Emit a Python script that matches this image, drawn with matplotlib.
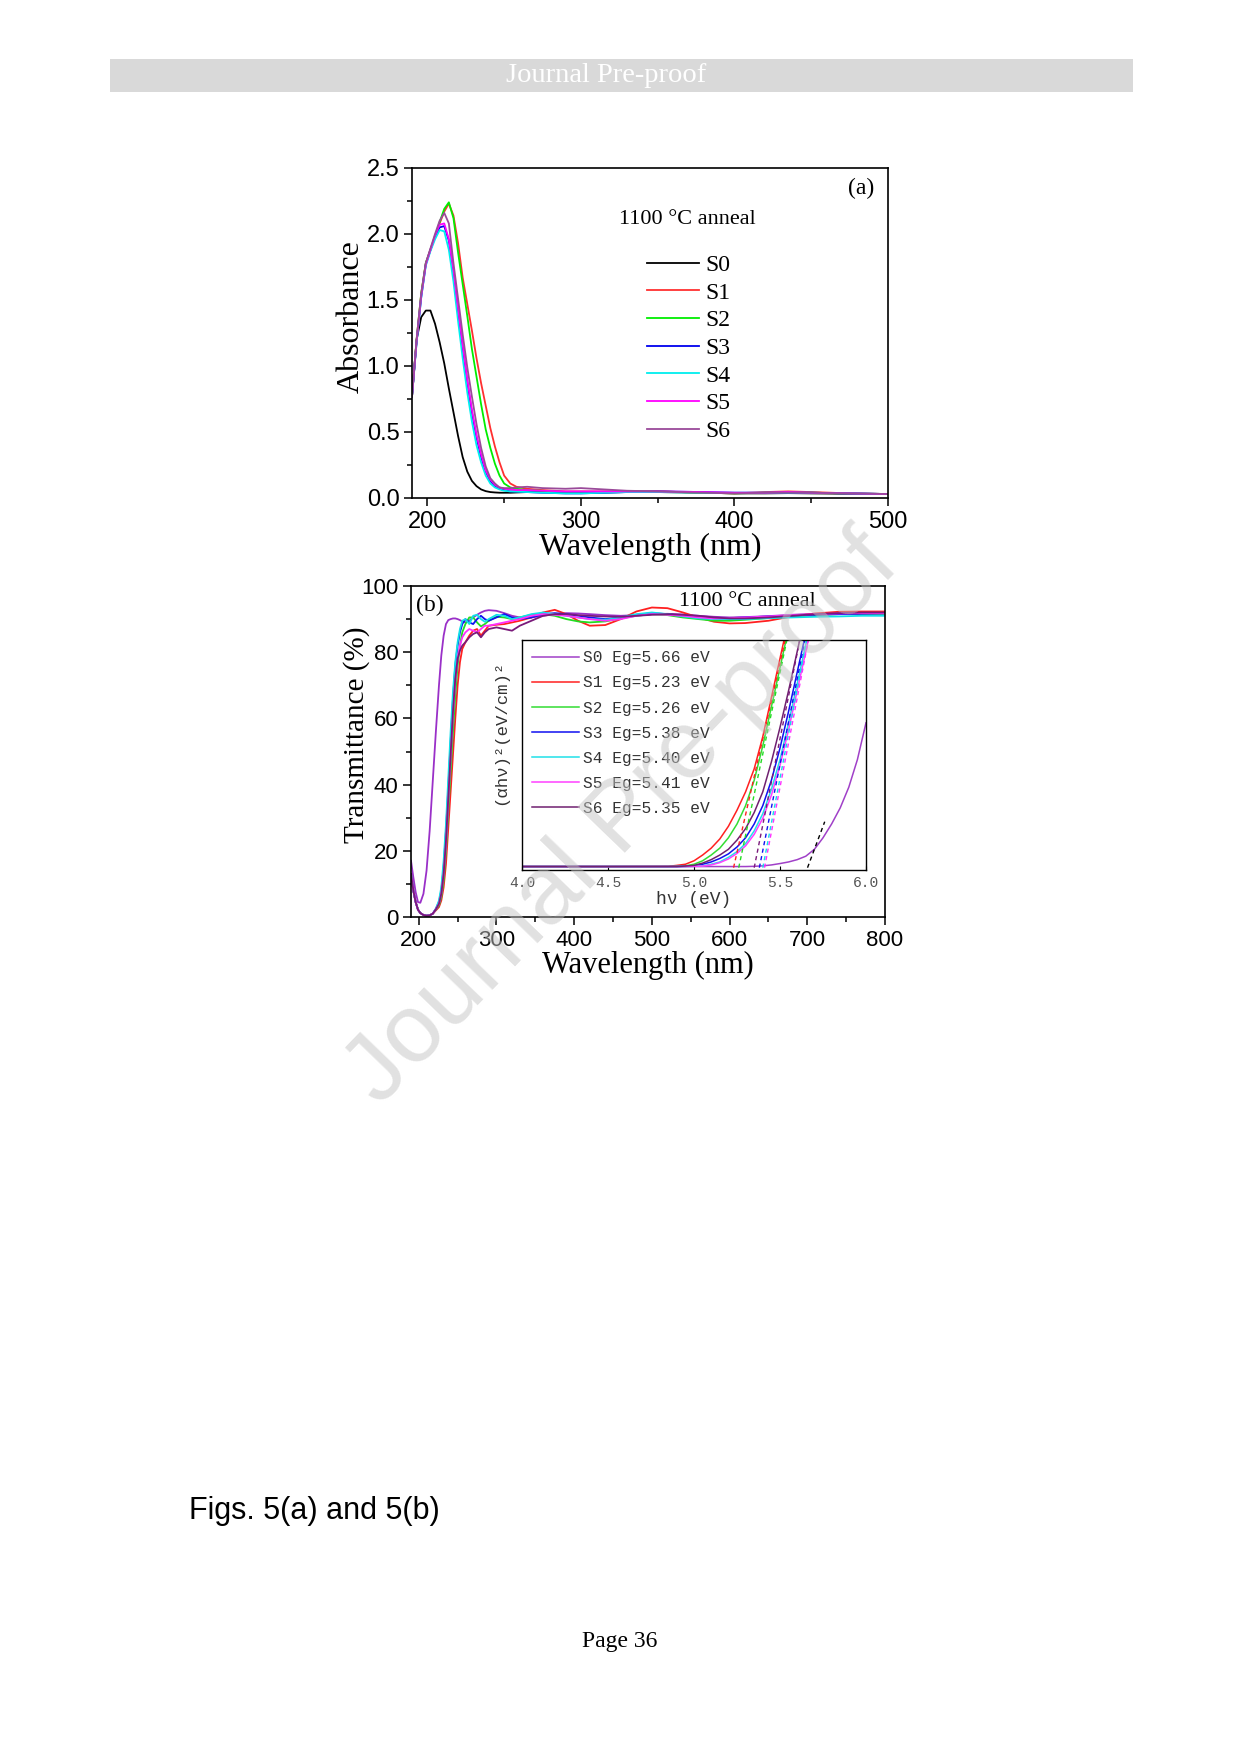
import matplotlib
matplotlib.use("Agg")
import matplotlib.pyplot as plt
from matplotlib.ticker import MultipleLocator, FormatStrFormatter
from matplotlib.patches import Rectangle

plt.rcParams['font.family'] = ['Liberation Sans', 'DejaVu Sans']

# ---------------- data: panel (a) absorbance ----------------
wl_a = [190, 193, 196, 199, 202, 205, 208, 211, 214, 217, 220, 223, 226, 229, 232,
        235, 238, 241, 244, 247, 250, 254, 258, 265, 275, 290, 300, 315, 330, 350,
        380, 400, 420, 435, 450, 475, 500]
abs_s0 = [0.77, 1.20, 1.37, 1.42, 1.42, 1.32, 1.18, 1.02, 0.83, 0.65, 0.47, 0.31, 0.20, 0.13, 0.09,
          0.065, 0.052, 0.045, 0.042, 0.040, 0.040, 0.040, 0.042, 0.045, 0.045, 0.042, 0.040, 0.042, 0.045, 0.045,
          0.040, 0.035, 0.035, 0.037, 0.035, 0.032, 0.030]
abs_s1 = [0.77, 1.20, 1.55, 1.78, 1.88, 1.98, 2.08, 2.17, 2.23, 2.14, 1.93, 1.67, 1.47, 1.27, 1.06,
          0.87, 0.70, 0.53, 0.39, 0.27, 0.17, 0.11, 0.085, 0.07, 0.06, 0.05, 0.05, 0.05, 0.05, 0.05,
          0.04, 0.035, 0.045, 0.05, 0.045, 0.035, 0.03]
abs_s2 = [0.77, 1.20, 1.55, 1.78, 1.88, 1.98, 2.09, 2.19, 2.24, 2.12, 1.86, 1.62, 1.38, 1.13, 0.92,
          0.71, 0.52, 0.38, 0.26, 0.17, 0.11, 0.08, 0.07, 0.06, 0.055, 0.045, 0.04, 0.045, 0.05, 0.05,
          0.04, 0.035, 0.04, 0.04, 0.04, 0.035, 0.03]
abs_s3 = [0.77, 1.18, 1.52, 1.77, 1.88, 1.98, 2.05, 2.06, 1.95, 1.72, 1.42, 1.14, 0.88, 0.65, 0.46,
          0.31, 0.20, 0.13, 0.09, 0.07, 0.06, 0.05, 0.05, 0.045, 0.04, 0.035, 0.035, 0.04, 0.045, 0.05,
          0.045, 0.04, 0.04, 0.04, 0.04, 0.035, 0.03]
abs_s4 = [0.77, 1.18, 1.52, 1.76, 1.87, 1.96, 2.03, 2.02, 1.88, 1.64, 1.34, 1.06, 0.80, 0.58, 0.40,
          0.27, 0.17, 0.11, 0.08, 0.065, 0.055, 0.05, 0.048, 0.045, 0.04, 0.035, 0.035, 0.04, 0.045, 0.045,
          0.04, 0.04, 0.04, 0.04, 0.04, 0.035, 0.03]
abs_s5 = [0.77, 1.19, 1.53, 1.77, 1.88, 1.99, 2.07, 2.08, 1.96, 1.73, 1.44, 1.16, 0.90, 0.67, 0.48,
          0.33, 0.21, 0.14, 0.10, 0.08, 0.07, 0.065, 0.06, 0.06, 0.055, 0.05, 0.05, 0.05, 0.05, 0.05,
          0.045, 0.04, 0.04, 0.045, 0.04, 0.035, 0.03]
abs_s6 = [0.77, 1.20, 1.54, 1.78, 1.89, 2.00, 2.10, 2.16, 2.08, 1.78, 1.51, 1.24, 0.99, 0.77, 0.56,
          0.38, 0.24, 0.15, 0.11, 0.08, 0.075, 0.075, 0.08, 0.085, 0.075, 0.07, 0.075, 0.065, 0.055, 0.05,
          0.04, 0.035, 0.04, 0.04, 0.04, 0.035, 0.03]

labels = ['S0', 'S1', 'S2', 'S3', 'S4', 'S5', 'S6']
colors_a = ['#000000', '#FF3030', '#00EE00', '#0000EE', '#00EEEE', '#FF00FF', '#9A4A9A']

# ---------------- data: panel (b) transmittance ----------------
wl_b = [190, 193, 196, 199, 202, 206, 210, 214, 218, 222, 226, 229, 232, 235, 238, 241, 244, 247,
        250, 253, 256, 260, 265, 270, 275, 280, 285, 290, 300, 310, 320, 330, 345, 360, 375, 390,
        405, 420, 440, 460, 480, 500, 520, 540, 560, 580, 600, 620, 650, 680, 710, 740, 770, 800]
tr_s0 = [17, 12, 7.5, 4.5, 4.3, 7, 14, 26, 41, 56, 70, 79, 85, 88.5, 89.7, 90, 90.2, 90.2,
         90, 89.7, 89.3, 89, 89.5, 90.5, 91.3, 92, 92.5, 92.7, 92.5, 91.8, 91, 90.5, 90.5, 91, 91.5, 91.8,
         91.7, 91.5, 91.2, 91, 91.2, 91.5, 91.6, 91.4, 91, 90.7, 90.5, 90.6, 90.9, 91.3, 91.6, 91.8, 91.9, 92]
tr_s1 = [13, 8, 4.5, 2.2, 1.2, 0.6, 0.4, 0.5, 1.0, 2.0, 3, 5, 9, 16, 27, 38, 49, 60,
         70, 77, 81, 83, 85, 86.5, 87, 85, 86.5, 88, 88.3, 88.5, 89, 89.5, 90.5, 92, 92.8, 91.5,
         89.5, 88, 88.2, 90, 92.3, 93.5, 93.3, 92, 90.5, 89.2, 88.7, 88.8, 89.5, 90.8, 91.7, 92.2, 92.3, 92.3]
tr_s2 = [13, 8, 4.5, 2.2, 1.2, 0.6, 0.4, 0.5, 1.0, 2.2, 3.5, 6, 11, 20, 32, 44, 56, 67,
         76, 82, 86, 88.5, 90.5, 90.5, 89, 87.8, 88.5, 89.5, 90.7, 90.5, 90, 90.5, 91.3, 91.5, 91, 90,
         89.3, 89, 89.3, 90.2, 91, 91.5, 91.2, 90.5, 90, 89.5, 89.5, 89.8, 90.3, 90.8, 91.2, 91.5, 91.6, 91.6]
tr_s3 = [13, 8, 4.5, 2.2, 1.2, 0.6, 0.4, 0.5, 1.0, 2.5, 4.5, 8, 15, 26, 39, 53, 66, 76,
         82, 86, 88.5, 90, 89, 88.5, 90, 91, 90, 89.5, 90.5, 91.5, 90.5, 90, 90.5, 91.5, 91.8, 91.5,
         91, 90.5, 90, 90.5, 91.3, 91.8, 91.5, 91, 90.5, 90.3, 90.3, 90.5, 90.8, 91, 91.3, 91.5, 91.6, 91.7]
tr_s4 = [13, 8, 4.5, 2.2, 1.2, 0.6, 0.4, 0.5, 1.0, 2.5, 5, 9, 17, 28, 42, 56, 68, 77,
         83, 87, 89.5, 90, 88.5, 91, 91.3, 90, 89.2, 90, 91.3, 91, 90, 90.5, 91.5, 92, 91.5, 91,
         90.5, 90, 89.8, 90.5, 91.5, 92, 91.5, 90.8, 90.2, 90, 90, 90, 90.3, 90.5, 90.7, 90.8, 91, 91]
tr_s5 = [13, 8, 4.5, 2.2, 1.2, 0.6, 0.4, 0.5, 1.0, 2.3, 4, 7, 13, 22, 35, 48, 61, 71,
         78, 82, 84.5, 86, 87, 86.5, 86, 87, 88, 88, 88.5, 89, 89.5, 90, 91, 91.5, 91.3, 91,
         90.5, 90, 89.5, 90, 91, 91.5, 91.3, 91, 90.5, 90.2, 90.3, 90.5, 90.8, 91.2, 91.5, 91.7, 91.8, 91.8]
tr_s6 = [13, 8, 4.5, 2.2, 1.2, 0.6, 0.4, 0.5, 1.0, 2.3, 4, 7, 13, 23, 36, 49, 62, 72,
         78, 80.5, 82, 83, 84.5, 85.5, 86, 84.5, 86, 87, 87.5, 87, 86.5, 88, 89.5, 91, 91.5, 91.5,
         91.2, 91, 90.8, 90.7, 91, 91.3, 91.5, 91.3, 91, 90.5, 90.2, 90.2, 90.5, 91, 91.5, 91.8, 92, 92]
colors_b = ['#9A30C8', '#FF2020', '#22DD22', '#1010F0', '#10E0E8', '#FF30FF', '#7A1A7A']

# ---------------- data: inset (alpha h nu)^2 vs h nu ----------------
ev = [4.0, 4.5, 4.85, 4.9, 4.95, 5.0, 5.05, 5.1, 5.15, 5.2, 5.25, 5.3, 5.35, 5.4, 5.45,
      5.5, 5.55, 5.6, 5.65, 5.7, 5.75, 5.8, 5.85, 5.9, 5.95, 6.0]
ah_s0 = [0.015, 0.015, 0.015, 0.015, 0.015, 0.015, 0.015, 0.015, 0.015, 0.015, 0.015, 0.015, 0.016, 0.018, 0.022,
         0.028, 0.035, 0.045, 0.06, 0.09, 0.14, 0.20, 0.27, 0.36, 0.48, 0.64]
ah_s1 = [0.015, 0.015, 0.016, 0.02, 0.025, 0.04, 0.065, 0.095, 0.135, 0.19, 0.26, 0.34, 0.44, 0.58, 0.75,
         0.92, 1.09, 1.26, 1.43, 1.60, 1.77, 1.94, 2.11, 2.28, 2.45, 2.62]
ah_s2 = [0.015, 0.015, 0.015, 0.016, 0.018, 0.025, 0.04, 0.065, 0.095, 0.14, 0.20, 0.28, 0.39, 0.54, 0.71,
         0.88, 1.05, 1.22, 1.39, 1.56, 1.73, 1.90, 2.07, 2.24, 2.41, 2.58]
ah_s3 = [0.015, 0.015, 0.015, 0.015, 0.016, 0.018, 0.025, 0.035, 0.05, 0.07, 0.10, 0.14, 0.20, 0.28, 0.39,
         0.53, 0.69, 0.86, 1.03, 1.20, 1.37, 1.54, 1.71, 1.88, 2.05, 2.22]
ah_s4 = [0.015, 0.015, 0.015, 0.015, 0.015, 0.016, 0.018, 0.025, 0.035, 0.055, 0.08, 0.115, 0.17, 0.245, 0.35,
         0.48, 0.64, 0.81, 0.98, 1.15, 1.32, 1.49, 1.66, 1.83, 2.00, 2.17]
ah_s5 = [0.015, 0.015, 0.015, 0.015, 0.015, 0.016, 0.017, 0.022, 0.032, 0.048, 0.072, 0.105, 0.155, 0.225, 0.325,
         0.455, 0.61, 0.78, 0.95, 1.12, 1.29, 1.46, 1.63, 1.80, 1.97, 2.14]
ah_s6 = [0.015, 0.015, 0.015, 0.015, 0.017, 0.02, 0.03, 0.045, 0.065, 0.09, 0.13, 0.18, 0.25, 0.34, 0.47,
         0.62, 0.78, 0.95, 1.12, 1.29, 1.46, 1.63, 1.80, 1.97, 2.14, 2.31]
eg_vals = [5.66, 5.23, 5.26, 5.38, 5.40, 5.41, 5.35]
tan_x2 = [5.76, 5.53, 5.54, 5.645, 5.655, 5.665, 5.615]
tan_y2 = [0.21, 1.0, 1.0, 1.0, 1.0, 1.0, 1.0]
tan_colors = ['#000000', '#FF2020', '#22DD22', '#1010F0', '#10E0E8', '#FF30FF', '#7A1A7A']
colors_in = ['#A040C8', '#FF2020', '#33DD33', '#1010F0', '#20E0E8', '#FF40FF', '#702070']

# ---------------- figure ----------------
W, H = 1240, 1755
fig = plt.figure(figsize=(12.4, 17.55), dpi=100)

def fx(px):
    return px / W

def fy(py):
    return 1 - py / H

# header bar
fig.patches.append(Rectangle((fx(110), fy(92)), fx(1133) - fx(110), 33 / H,
                             transform=fig.transFigure, facecolor='#d9d9d9', edgecolor='none', zorder=0))
fig.text(fx(606), fy(75), 'Journal Pre-proof', color='white', fontsize=20.5,
         family='Liberation Serif', ha='center', va='center')

serif = 'Liberation Serif'

def style_axes(ax, labelsize):
    for s in ax.spines.values():
        s.set_linewidth(1.2)
    ax.tick_params(which='both', direction='out', top=False, right=False, width=1.1)
    ax.tick_params(which='major', length=6, labelsize=labelsize, pad=3)
    ax.tick_params(which='minor', length=3.5)

# ---- panel (a)
ax_a = fig.add_axes([fx(412), fy(498), 476 / W, 330 / H])
abs_all = [abs_s0, abs_s1, abs_s2, abs_s3, abs_s4, abs_s5, abs_s6]
for lab, col, ys in zip(labels, colors_a, abs_all):
    ax_a.plot(wl_a, ys, color=col, lw=1.3, label=lab)
ax_a.set_xlim(190, 500)
ax_a.set_ylim(0, 2.5)
ax_a.xaxis.set_major_locator(MultipleLocator(100))
ax_a.xaxis.set_minor_locator(MultipleLocator(50))
ax_a.yaxis.set_major_locator(MultipleLocator(0.5))
ax_a.yaxis.set_minor_locator(MultipleLocator(0.25))
ax_a.yaxis.set_major_formatter(FormatStrFormatter('%.1f'))
style_axes(ax_a, 17)
ax_a.set_xlabel('Wavelength (nm)', family=serif, fontsize=23, labelpad=0)
ax_a.set_ylabel('Absorbance', family=serif, fontsize=23)
ax_a.yaxis.set_label_coords(-0.097, 0.55)
ax_a.text(0.578, 0.845, '1100 °C anneal', transform=ax_a.transAxes, family=serif,
          fontsize=16, ha='center', va='center')
ax_a.text(0.943, 0.938, '(a)', transform=ax_a.transAxes, family=serif,
          fontsize=17, ha='center', va='center')
leg_a = ax_a.legend(loc='upper left', bbox_to_anchor=(0.494, 0.738), frameon=False,
                    prop={'family': serif, 'size': 17}, handlelength=2.2, handletextpad=0.25,
                    labelspacing=0.26, borderpad=0, borderaxespad=0)

# ---- panel (b)
ax_b = fig.add_axes([fx(411), fy(917), 474 / W, 331 / H])
tr_all = [tr_s0, tr_s1, tr_s2, tr_s3, tr_s4, tr_s5, tr_s6]
for col, ys in zip(colors_b, tr_all):
    ax_b.plot(wl_b, ys, color=col, lw=1.3)
ax_b.set_xlim(190, 800)
ax_b.set_ylim(0, 100)
ax_b.xaxis.set_major_locator(MultipleLocator(100))
ax_b.xaxis.set_minor_locator(MultipleLocator(50))
ax_b.yaxis.set_major_locator(MultipleLocator(20))
ax_b.yaxis.set_minor_locator(MultipleLocator(10))
style_axes(ax_b, 16)
ax_b.set_xlabel('Wavelength (nm)', family=serif, fontsize=22, labelpad=0)
ax_b.set_ylabel('Transmittance (%)', family=serif, fontsize=21)
ax_b.yaxis.set_label_coords(-0.086, 0.55)
ax_b.text(0.709, 0.953, '1100 °C anneal', transform=ax_b.transAxes, family=serif,
          fontsize=16, ha='center', va='center')
ax_b.text(0.04, 0.94, '(b)', transform=ax_b.transAxes, family=serif,
          fontsize=17, ha='center', va='center')

# ---- inset
mono = 'Liberation Mono'
ax_in = fig.add_axes([fx(522), fy(870), 344 / W, 230 / H])
ax_in.set_facecolor('white')
ah_all = [ah_s0, ah_s1, ah_s2, ah_s3, ah_s4, ah_s5, ah_s6]
for lab, col, ys, eg in zip(labels, colors_in, ah_all, eg_vals):
    ax_in.plot(ev, ys, color=col, lw=1.1, label=f'{lab} Eg={eg:.2f} eV')
for eg, x2, y2, col in zip(eg_vals, tan_x2, tan_y2, tan_colors):
    ax_in.plot([eg, x2], [0.01, y2], color=col, lw=1.0, ls=(0, (3, 2.5)))
ax_in.set_xlim(4.0, 6.0)
ax_in.set_ylim(0, 1)
ax_in.set_yticks([])
ax_in.set_xticks([4.0, 4.5, 5.0, 5.5, 6.0])
ax_in.xaxis.set_major_formatter(FormatStrFormatter('%.1f'))
for s in ax_in.spines.values():
    s.set_linewidth(1.0)
ax_in.tick_params(axis='x', direction='in', length=3, width=0.8, labelsize=10.5,
                  labelcolor='#555555', pad=4)
for t in ax_in.get_xticklabels():
    t.set_family(mono)
ax_in.set_xlabel('hν (eV)', family=mono, fontsize=13, color='#333333', labelpad=1)
ax_in.set_ylabel('(αhν)²(eV/cm)²', family=mono, fontsize=12.5, color='#333333')
ax_in.yaxis.set_label_coords(-0.04, 0.6)
ax_in.legend(loc='upper left', bbox_to_anchor=(0.03, 0.955), frameon=False,
             prop={'family': mono, 'size': 11.7}, handlelength=2.9, handletextpad=0.2,
             labelspacing=0.62, borderpad=0, borderaxespad=0, labelcolor='#333333')

# watermark
fig.text(fx(623), fy(819), 'Journal Pre-proof', fontsize=70, family='Liberation Sans',
         color='#c4c4c4', alpha=0.5, rotation=46, ha='center', va='center',
         rotation_mode='anchor', zorder=10)

# caption and page number
fig.text(fx(189), fy(1511), 'Figs. 5(a) and 5(b)', fontsize=22, family='Liberation Sans',
         ha='left', va='center')
fig.text(fx(620), fy(1641), 'Page 36', fontsize=17, family=serif, ha='center', va='center')

fig.savefig('out.png', dpi=100, facecolor='white')
